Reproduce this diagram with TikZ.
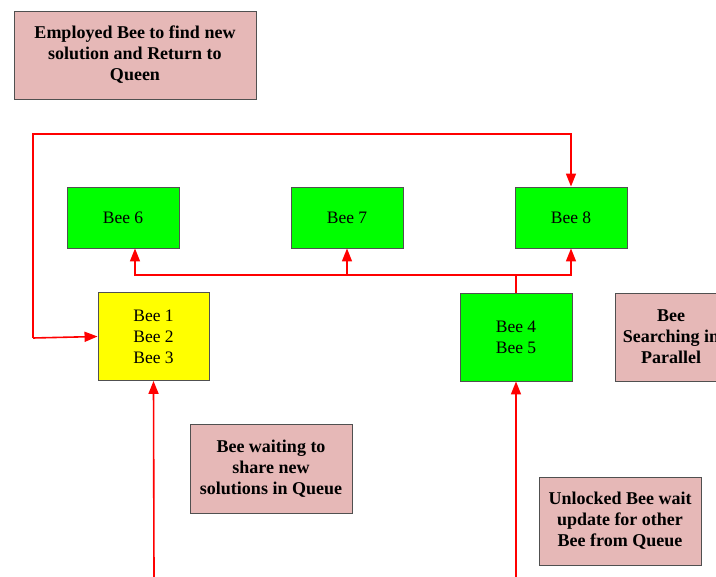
\documentclass[tikz,border=0pt]{standalone}
\usepackage{fontspec}
\setmainfont{Liberation Serif}
\usetikzlibrary{arrows.meta}
\definecolor{beegreen}{HTML}{00FF00}
\definecolor{beeyellow}{HTML}{FFFF00}
\definecolor{notepink}{HTML}{E6B8B7}
\definecolor{edgegray}{HTML}{505050}
\definecolor{flowred}{HTML}{FF0000}
\begin{document}
\begin{tikzpicture}[x=1pt,y=-1pt,
  beebox/.style={draw=edgegray,line width=0.9pt,align=center,inner sep=0pt,
    font=\fontsize{17.5}{21}\selectfont},
  greenbox/.style={beebox,fill=beegreen},
  yellowbox/.style={beebox,fill=beeyellow},
  notebox/.style={draw=edgegray,line width=0.9pt,fill=notepink,align=center,inner sep=0pt,
    font=\fontsize{18}{21}\selectfont\bfseries},
  flow/.style={draw=flowred,line width=1.6pt},
  tip/.style={-{Triangle[length=13pt,width=10pt]}}
]
\useasboundingbox (0,0) rectangle (716,577);

% notes
\node[notebox,minimum width=242pt,minimum height=88pt] (employed) at (135,55)
  {Employed Bee to find new\\solution and Return to\\Queen};
\node[notebox,minimum width=112pt,minimum height=88pt] (parallel) at (671,337)
  {Bee\\Searching in\\Parallel};
\node[notebox,minimum width=162pt,minimum height=89pt] (waiting) at (271,468.5)
  {Bee waiting to\\share new\\solutions in Queue};
\node[notebox,minimum width=162pt,minimum height=88pt] (unlocked) at (620,521)
  {Unlocked Bee wait\\update for other\\Bee from Queue};

% bees
\node[greenbox,minimum width=112pt,minimum height=61pt] (bee6) at (123,217.5) {Bee 6};
\node[greenbox,minimum width=112pt,minimum height=61pt] (bee7) at (347,217.5) {Bee 7};
\node[greenbox,minimum width=112pt,minimum height=61pt] (bee8) at (571,217.5) {Bee 8};
\node[yellowbox,minimum width=111pt,minimum height=88pt] (bee123) at (153.5,336.5) {Bee 1\\Bee 2\\Bee 3};
\node[greenbox,minimum width=112pt,minimum height=88pt] (bee45) at (516,337) {Bee 4\\Bee 5};

% return loop from the queue side to Bee 8
\coordinate (loopB) at (33,338);
\coordinate (loopT) at (33,134);
\draw[flow,tip] (loopB) -- (bee123.west);
\draw[flow,tip] (loopB) -- (loopT) -| (bee8.north);

% fan-out from Bee 4/5
\coordinate (bus) at (516,275);
\draw[flow] (bee45.north) -- (bus);
\draw[flow,tip] (bus) -| (bee8.south);
\draw[flow,tip] (bus) -| ([xshift=12pt]bee6.south);
\draw[flow,tip] (bee7.south |- bus) -- (bee7.south);

% incoming from below
\coordinate (in1) at (154,577);
\coordinate (in2) at (516,577);
\draw[flow,tip] (in1) -- (bee123.south);
\draw[flow,tip] (in2) -- (bee45.south);
\end{tikzpicture}
\end{document}
